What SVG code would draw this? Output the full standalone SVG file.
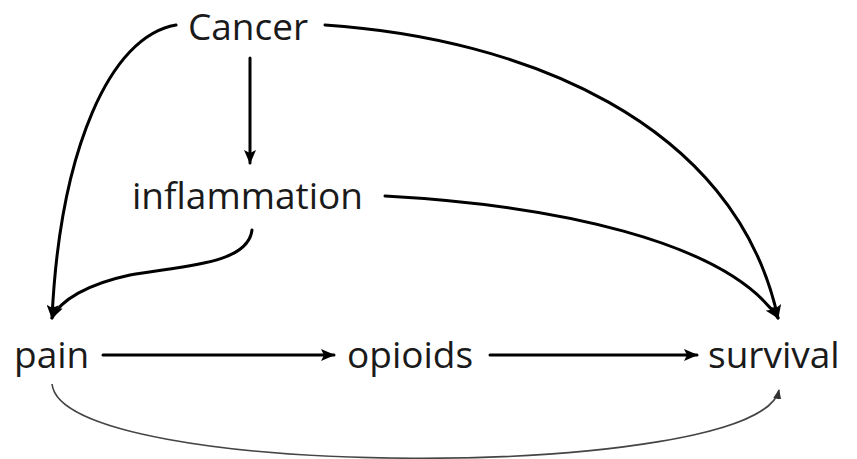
<svg xmlns="http://www.w3.org/2000/svg" width="857" height="459" viewBox="0 0 857 459">
<style>
text{font-family:"Open Sans","Liberation Sans",sans-serif;font-size:37px;fill:#1a1a1a}
.e{fill:none;stroke:#000;stroke-width:3;stroke-linecap:round}
.t{fill:none;stroke:#444;stroke-width:1.6}
</style>
<defs>
<marker id="a" markerUnits="userSpaceOnUse" markerWidth="14" markerHeight="12" refX="13" refY="6" orient="auto"><path d="M0,0 L14,6 L0,12 L3,6 Z" fill="#000"/></marker>
<marker id="s" markerUnits="userSpaceOnUse" markerWidth="10" markerHeight="8" refX="9" refY="4" orient="auto"><path d="M0,0 L10,4 L0,8 Z" fill="#333"/></marker>
</defs>
<rect width="857" height="459" fill="#fff"/>
<g id="connectors">
<path class="e" d="M250,58 L250,163" marker-end="url(#a)"/>
<path class="e" d="M176,25 C110,36 60,150 52,318" marker-end="url(#a)"/>
<path class="e" d="M252,230 C248,265 180,266 130,275 C88,284 60,300 52,318" marker-end="url(#a)"/>
<path class="e" d="M325,25 C520,38 735,120 778,318" marker-end="url(#a)"/>
<path class="e" d="M385,196 C550,205 725,240 778,318" marker-end="url(#a)"/>
<path class="e" d="M103,355 L334,355" marker-end="url(#a)"/>
<path class="e" d="M490,355 L697,355" marker-end="url(#a)"/>
<path class="t" d="M52,384 C62,482 760,482 779,390" marker-end="url(#s)"/>
</g>
<g id="cancer"><text x="188" y="40">Cancer</text></g>
<g id="inflammation"><text x="132" y="209">inflammation</text></g>
<g id="pain"><text x="14" y="368">pain</text></g>
<g id="opioids"><text x="347" y="368">opioids</text></g>
<g id="survival"><text x="708" y="368">survival</text></g>
</svg>
